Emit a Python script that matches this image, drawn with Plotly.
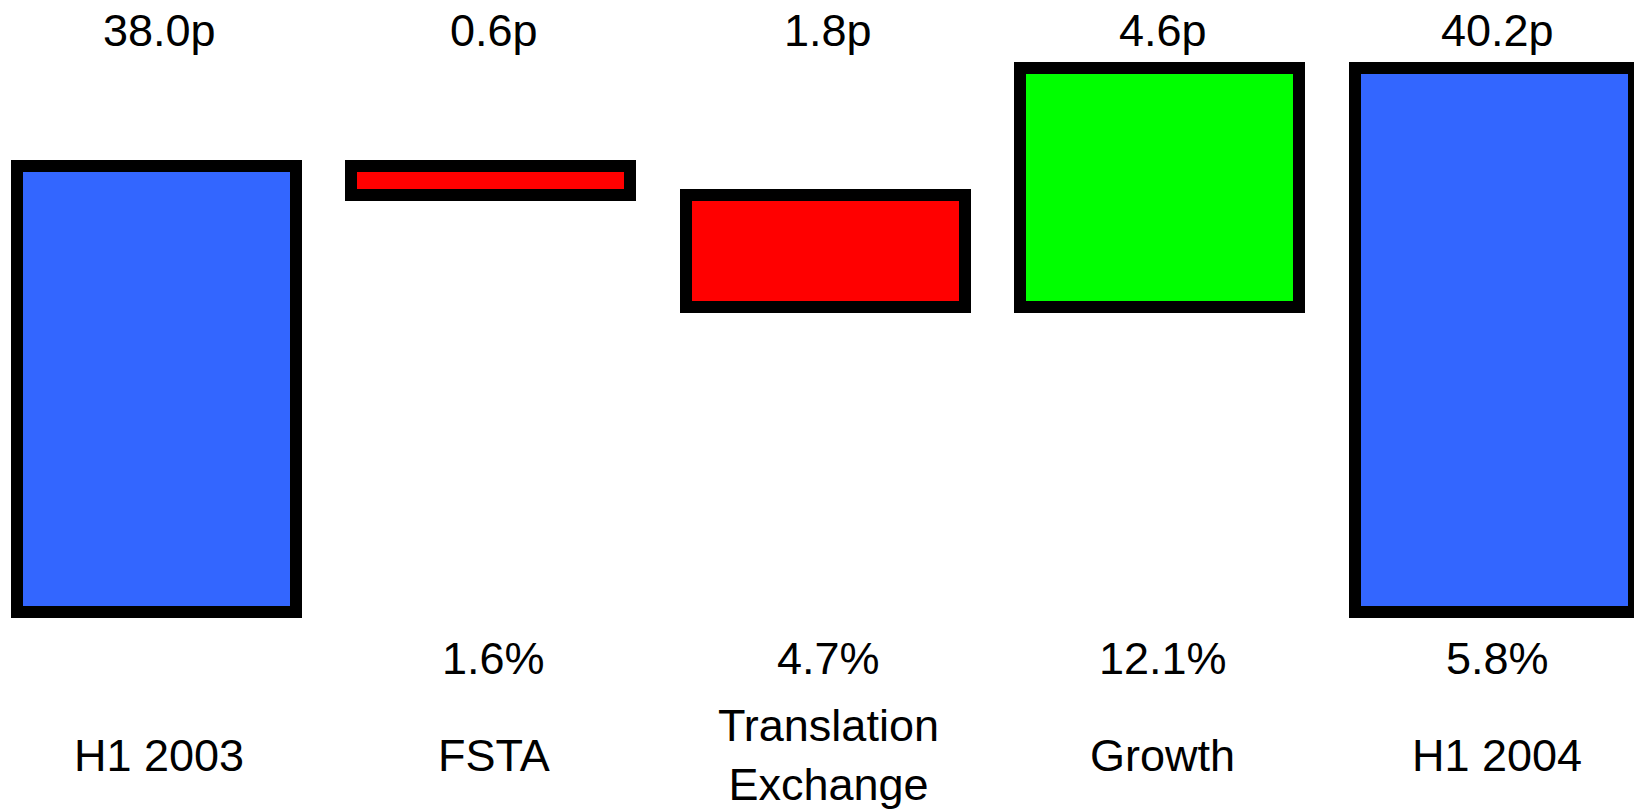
import plotly.graph_objects as go

# Data
categories = ["H1 2003", "FSTA", "Translation<br>Exchange", "Growth", "H1 2004"]
value_labels = ["38.0p", "0.6p", "1.8p", "4.6p", "40.2p"]
pct_labels = ["", "1.6%", "4.7%", "12.1%", "5.8%"]
# Visual extents of each bar on the (truncated) pence axis
bar_bottom = [28.0, 37.35, 34.83, 34.83, 28.0]
bar_top = [38.0, 38.0, 37.35, 40.2, 40.2]
bar_colors = ["#3366FF", "#FF0000", "#FF0000", "#00FF00", "#3366FF"]

W, H = 1634, 811
x_idx = list(range(len(categories)))

fig = go.Figure()
fig.add_trace(go.Bar(
    x=x_idx,
    y=[t - b for t, b in zip(bar_top, bar_bottom)],
    base=bar_bottom,
    width=0.834,
    marker=dict(color=bar_colors, line=dict(color="black", width=12)),
    hoverinfo="skip",
    showlegend=False,
))

font = dict(family="Liberation Sans, Arial, sans-serif", size=45, color="black")

def ypx(px):
    return 1 - px / H

ann = []
for i in x_idx:
    ann.append(dict(x=i, xref="x", y=ypx(30), yref="paper", text=value_labels[i],
                    showarrow=False, font=font, xanchor="center", yanchor="middle", xshift=3))
    if pct_labels[i]:
        ann.append(dict(x=i, xref="x", y=ypx(658), yref="paper", text=pct_labels[i],
                        showarrow=False, font=font, xanchor="center", yanchor="middle", xshift=3))
    ann.append(dict(x=i, xref="x", y=ypx(755), yref="paper", text=categories[i],
                    showarrow=False, font=font, xanchor="center", yanchor="middle", xshift=3))

fig.update_layout(
    width=W, height=H,
    margin=dict(l=0, r=0, t=0, b=0, pad=0),
    paper_bgcolor="white", plot_bgcolor="white",
    xaxis=dict(range=[-0.4664, 4.4185], visible=False, fixedrange=True),
    yaxis=dict(range=[23.522, 41.726], visible=False, fixedrange=True),
    annotations=ann,
    bargap=0,
)

fig.write_html("out.html", config={"displayModeBar": False})
